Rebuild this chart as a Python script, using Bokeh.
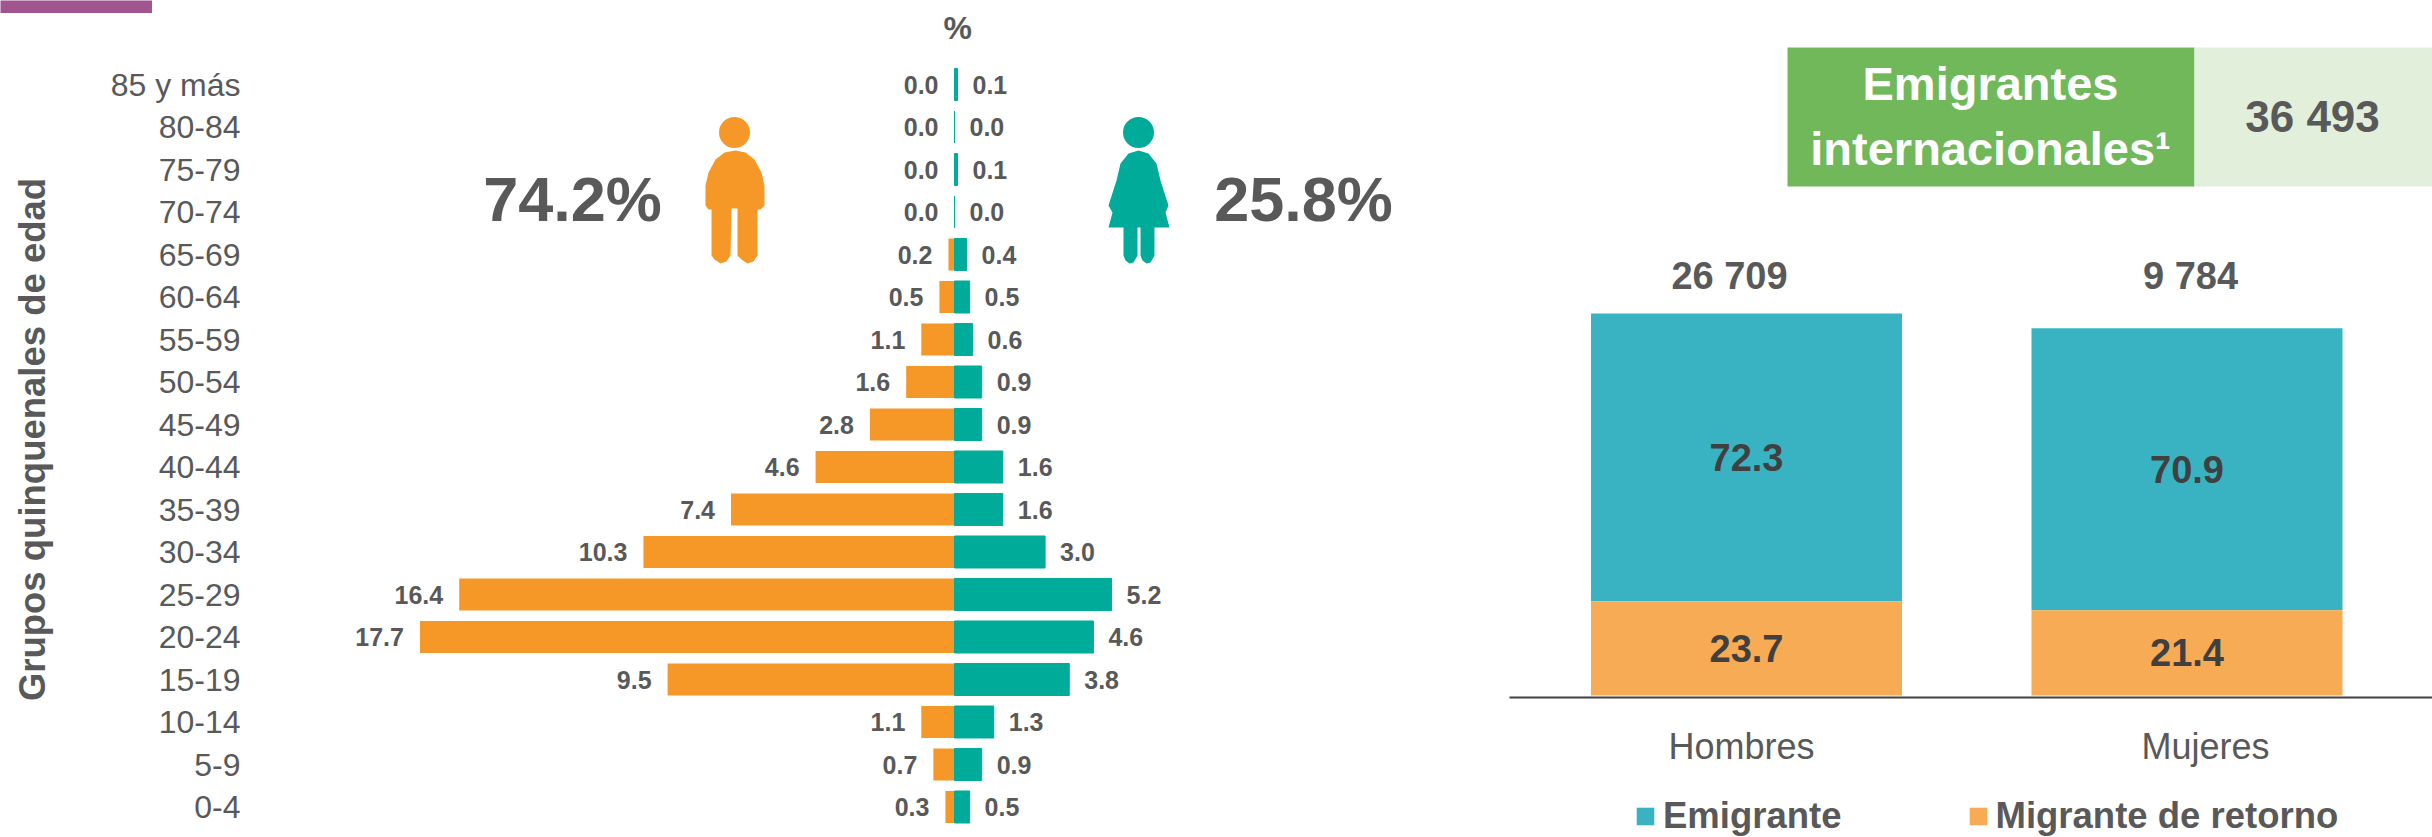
from bokeh.embed import file_html
from bokeh.resources import INLINE
from bokeh.plotting import figure
from bokeh.models import ColumnDataSource, FixedTicker, Title, Legend, LegendItem
from bokeh.core.properties import value

AGES = ["85 y más","80-84","75-79","70-74","65-69","60-64","55-59","50-54","45-49","40-44","35-39","30-34","25-29","20-24","15-19","10-14","5-9","0-4"]
HOMBRES = [0.0,0.0,0.0,0.0,0.2,0.5,1.1,1.6,2.8,4.6,7.4,10.3,16.4,17.7,9.5,1.1,0.7,0.3]
MUJERES = [0.1,0.0,0.1,0.0,0.4,0.5,0.6,0.9,0.9,1.6,1.6,3.0,5.2,4.6,3.8,1.3,0.9,0.5]
SEXOS = ["Hombres","Mujeres"]
EMIGRANTE = [72.3,70.9]
RETORNO = [23.7,21.4]
TOTALES = ["26 709","9 784"]

FONT = "Liberation Sans"
GRAY = "#595959"
ORANGE = "#F59828"; GREEN = "#00AB9A"
TEAL = "#39B3C1"; LORANGE = "#F8AB55"

# ---------- pyramid ----------
W1, H = 1450, 837
FL, FT = 250, 41
PXU, ROW = 30.2, 42.5
X0, Y0 = 954, 806.5
xs, xe = (FL-X0)/PXU, (W1-X0)/PXU
ys, ye = -(H-Y0)/ROW, (Y0-FT)/ROW
p = figure(width=W1, height=H, x_range=(xs,xe), y_range=(ys,ye), output_backend="svg", toolbar_location=None,
           min_border_left=FL, min_border_top=FT, min_border_right=0, min_border_bottom=0,
           x_axis_location=None, outline_line_color=None, background_fill_color="white")
p.grid.visible = False
p.title = Title(text="%", align="left", offset=957-FL-14, standoff=-9, text_font=FONT, text_font_size="32px",
                text_font_style="bold", text_color=GRAY)
n = len(AGES)
pos = [n-1-i for i in range(n)]
src = ColumnDataSource(dict(y=pos, h=HOMBRES, m=MUJERES, neg=[-v for v in HOMBRES], age=AGES,
                            ht=[f"{v:.1f}" for v in HOMBRES], mt=[f"{v:.1f}" for v in MUJERES]))
p.hbar(y="y", left="neg", right=0, height=0.753, color=ORANGE, line_width=0, source=src)
p.hbar(y="y", left=0, right="m", height=0.753, fill_color=GREEN, line_color=GREEN, line_width=1, source=src)
p.text(x="neg", y="y", text="ht", source=src, text_align="right", text_baseline="middle", x_offset=-16,
       text_font=value(FONT), text_font_size="25px", text_font_style="bold", text_color=GRAY)
p.text(x="m", y="y", text="mt", source=src, text_align="left", text_baseline="middle", x_offset=15,
       text_font=value(FONT), text_font_size="25px", text_font_style="bold", text_color=GRAY)

ax = p.yaxis[0]
ax.ticker = FixedTicker(ticks=pos)
ax.major_label_overrides = {y: a for y, a in zip(pos, AGES)}
ax.axis_line_color = None; ax.major_tick_line_color = None; ax.minor_tick_line_color = None
ax.major_label_text_font = FONT; ax.major_label_text_font_size = "32px"; ax.major_label_text_color = GRAY
ax.major_label_standoff = 4
ax.axis_label = "Grupos quinquenales de edad"
ax.axis_label_text_font = FONT; ax.axis_label_text_font_size = "36.5px"; ax.axis_label_text_font_style = "bold"
ax.axis_label_text_color = GRAY; ax.axis_label_standoff = 55

def X1(px): return xs + (px-FL)/PXU
def Y1(py): return (Y0-py)/ROW

man = [(735,150),(745,152),(754,159),(761,172),(764,185),(764,205),(760,209),(757,209),(757,255),(753,261),(747,263),(741,259),(737,255),(737,208),(731,208),(730,255),(726,261),(720,263),(714,259),(711,255),(711,209),(708,209),(705,205),(705,185),(708,172),(715,159),(724,152)]
woman = [(1138,150),(1148,153),(1156,163),(1160,180),(1168,205),(1165,212),(1169,227),(1154,227),(1154,255),(1150,262),(1146,263),(1142,260),(1140,255),(1140,227),(1137,227),(1137,255),(1133,262),(1129,263),(1125,260),(1123,255),(1123,227),(1108,227),(1112,212),(1108,205),(1116,180),(1120,163),(1128,153)]
p.patch([X1(a) for a,b in man],[Y1(b) for a,b in man], color=ORANGE, line_width=0)
p.patch([X1(a) for a,b in woman],[Y1(b) for a,b in woman], color=GREEN, line_width=0)
p.scatter([X1(734)],[Y1(132)], size=31, color=ORANGE, line_width=0)
p.scatter([X1(1138)],[Y1(132)], size=31, color=GREEN, line_width=0)
p.text([X1(572)],[Y1(198)],text=["74.2%"],text_font=value(FONT),text_font_size="63px",text_font_style="bold",text_color=GRAY,text_align="center",text_baseline="middle")
p.text([X1(1303)],[Y1(198)],text=["25.8%"],text_font=value(FONT),text_font_size="63px",text_font_style="bold",text_color=GRAY,text_align="center",text_baseline="middle")

# purple tab in the page corner
tab = figure(width=152, height=13, toolbar_location=None, output_backend="svg", x_axis_location=None, y_axis_location=None,
             min_border=0, outline_line_color=None, background_fill_color="#A0558F", border_fill_color="#A0558F")
tab.grid.visible = False

# ---------- stacked bars ----------
W2 = 2432-W1
FL2 = 1509-W1
FB = H-697
BX0, PITCH = 1746, 440.5
UY, BASE = 3.98, 695
xs2, xe2 = (1509-BX0)/PITCH, (2432-BX0)/PITCH
ys2, ye2 = -(697-BASE)/UY, BASE/UY
q = figure(width=W2, height=H, x_range=(xs2,xe2), y_range=(ys2,ye2), output_backend="svg", toolbar_location=None,
           min_border_left=FL2, min_border_right=0, min_border_top=0, min_border_bottom=FB,
           y_axis_location=None, outline_line_color=None)
q.grid.visible = False
idx = list(range(len(SEXOS)))
s2 = ColumnDataSource(dict(x=idx, r=RETORNO, top=[a+b for a,b in zip(RETORNO,EMIGRANTE)],
                           rm=[a/2 for a in RETORNO], em=[a+b/2 for a,b in zip(RETORNO,EMIGRANTE)],
                           rt=[f"{v:.1f}" for v in RETORNO], et=[f"{v:.1f}" for v in EMIGRANTE]))
q.vbar(x="x", bottom="r", top="top", width=0.706, color=TEAL, line_width=0, source=s2)
q.vbar(x="x", bottom=0, top="r", width=0.706, color=LORANGE, line_width=0, source=s2)
for c, t in (("rm","rt"),("em","et")):
    q.text(x="x", y=c, text=t, source=s2, text_font=value(FONT), text_font_size="38px", text_font_style="bold",
           text_color="#404040", text_align="center", text_baseline="middle")

def X2(px): return xs2 + (px-1509)/PITCH
def Y2(py): return (BASE-py)/UY
q.quad(left=[X2(1787)], right=[X2(2194)], top=[Y2(47)], bottom=[Y2(186)], color="#70B85A", line_width=0)
q.quad(left=[X2(2194)], right=[X2(2432)], top=[Y2(47)], bottom=[Y2(186)], color="#E2EFDA", line_width=0)
for tx, px, py, sz, col in (("Emigrantes",1990,83,"47px","white"),("internacionales¹",1990,148,"47px","white"),("36 493",2312,116,"44px",GRAY),
                            (TOTALES[0],1729,275,"38px",GRAY),(TOTALES[1],2190,275,"38px",GRAY)):
    q.text([X2(px)],[Y2(py)],text=[tx],text_font=value(FONT),text_font_size=sz,text_font_style="bold",text_color=col,text_align="center",text_baseline="middle")

ax2 = q.xaxis[0]
ticks = [X2(1741), X2(2205)]
ax2.ticker = FixedTicker(ticks=ticks)
ax2.major_label_overrides = {t: s for t, s in zip(ticks, SEXOS)}
ax2.axis_line_color = "#404040"; ax2.axis_line_width = 2
ax2.major_tick_line_color = None; ax2.minor_tick_line_color = None
ax2.major_label_text_font = FONT; ax2.major_label_text_font_size = "36px"; ax2.major_label_text_color = GRAY
ax2.major_label_standoff = 22

# legend strip under the bars
LX, LT = 1634, 795
lg = figure(width=2432-LX, height=H-LT, x_range=(0,1), y_range=(0,1), toolbar_location=None, output_backend="svg",
            x_axis_location=None, y_axis_location=None, min_border=0, outline_line_color=None,
            background_fill_alpha=0, border_fill_alpha=0)
lg.grid.visible = False
le = lg.vbar(x=[-5], top=[-5], bottom=[-6], width=0.1, color=TEAL, line_width=0)
lr = lg.vbar(x=[-5], top=[-5], bottom=[-6], width=0.1, color=LORANGE, line_width=0)
legend = Legend(items=[LegendItem(label="Emigrante", renderers=[le]), LegendItem(label="Migrante de retorno", renderers=[lr])],
                orientation="horizontal", location=(0,0), border_line_color=None, background_fill_alpha=0,
                label_text_font=FONT, label_text_font_size="36.5px", label_text_font_style="bold", label_text_color=GRAY,
                glyph_width=22, glyph_height=22, label_standoff=7, spacing=125, padding=0, margin=0)
lg.add_layout(legend)

p.styles = {"position":"absolute","left":"0px","top":"0px"}
q.styles = {"position":"absolute","left":f"{W1}px","top":"0px"}
tab.styles = {"position":"absolute","left":"0px","top":"0px"}
lg.styles = {"position":"absolute","left":f"{LX}px","top":f"{LT}px"}
open("out.html","w").write(file_html([p, q, tab, lg], INLINE))
